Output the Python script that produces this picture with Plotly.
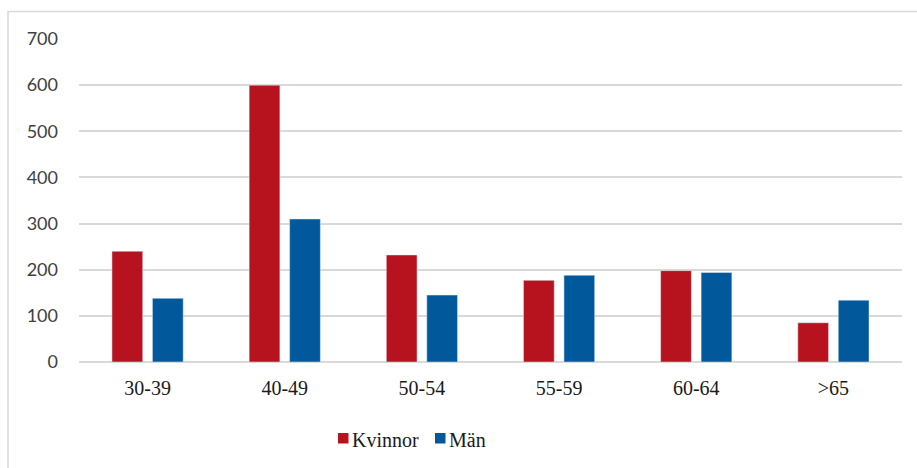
import plotly.graph_objects as go

categories = ["30-39", "40-49", "50-54", "55-59", "60-64", ">65"]
kvinnor = [240, 600, 232, 177, 198, 85]
man = [138, 310, 145, 188, 194, 134]
y_ticks = [0, 100, 200, 300, 400, 500, 600, 700]
series_names = ["Kvinnor", "Män"]
series_colors = ["#B7131F", "#01599C"]

W, H = 917, 468
ML, MR, MT, MB = 79, 15, 39, 106
pw = W - ML - MR
ph = H - MT - MB

SERIF = "Liberation Serif, Times New Roman, Times, serif"

def px_x(x):
    return (x - ML) / pw

def px_y(y):
    return (H - MB - y) / ph

fig = go.Figure()
for name, vals, col in zip(series_names, [kvinnor, man], series_colors):
    fig.add_trace(go.Bar(name=name, x=categories, y=vals, marker_color=col))

# legend drawn as shapes + text (tight Excel-style spacing)
shapes = [dict(type="rect", xref="paper", yref="paper",
               x0=px_x(8), x1=px_x(925), y0=px_y(480), y1=px_y(11.5),
               line=dict(color="#D9D9D9", width=1.5), fillcolor="rgba(0,0,0,0)",
               layer="below")]
annotations = []
leg_x = [338, 435]
for lx, name, col in zip(leg_x, series_names, series_colors):
    shapes.append(dict(type="rect", xref="paper", yref="paper",
                       x0=px_x(lx), x1=px_x(lx + 10.5), y0=px_y(443.5), y1=px_y(433),
                       line=dict(width=0), fillcolor=col))
    annotations.append(dict(xref="paper", yref="paper", x=px_x(lx + 12), y=px_y(439.5),
                            xanchor="left", yanchor="middle", text=name, showarrow=False,
                            font=dict(family=SERIF, size=20, color="#1a1a1a")))

fig.update_layout(
    width=W, height=H,
    margin=dict(l=ML, r=MR, t=MT, b=MB),
    font=dict(family=SERIF, size=20, color="#1a1a1a"),
    paper_bgcolor="white", plot_bgcolor="white",
    barmode="group", bargap=0.41, bargroupgap=0.24,
    showlegend=False,
    xaxis=dict(showgrid=False, showline=False, ticks="", ticklabelstandoff=12,
               tickfont=dict(family=SERIF, size=20, color="#1a1a1a")),
    yaxis=dict(range=[0, 700], tickvals=y_ticks, showgrid=True, gridcolor="#D9D9D9",
               gridwidth=1.5, zeroline=True, zerolinecolor="#D9D9D9", zerolinewidth=1.5,
               showline=False, ticks="", ticklabelstandoff=20,
               tickfont=dict(family="Lato", size=18, color="#404040")),
    shapes=shapes,
    annotations=annotations,
)

fig.write_html("out.html")
